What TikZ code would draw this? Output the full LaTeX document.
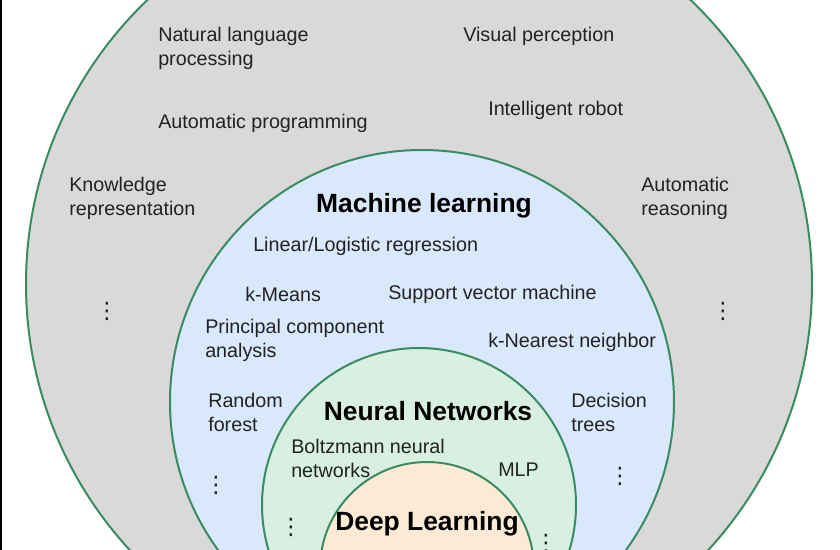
\documentclass[tikz,border=0pt]{standalone}
\usepackage{fontspec}
\setmainfont{Liberation Sans}
\newfontfamily\dotsfont{DejaVu Sans}
\usepackage{tikz}
\usetikzlibrary{positioning}
\definecolor{ringGreen}{RGB}{58,138,98}
\definecolor{fillAI}{RGB}{217,217,217}
\definecolor{fillML}{RGB}{218,232,252}
\definecolor{fillNN}{RGB}{216,240,226}
\definecolor{fillDL}{RGB}{252,234,212}
\definecolor{inktext}{RGB}{34,34,34}

\begin{document}
\begin{tikzpicture}[x=0.75pt,y=-0.75pt,
  ring/.style={draw=ringGreen,line width=1.5pt},
  lbl/.style={anchor=west,inner sep=0pt,align=left,text=inktext,yshift=-2pt,
              font=\fontsize{14.8pt}{18pt}\selectfont},
  ttl/.style={inner sep=0pt,yshift=-1.5pt,font=\fontsize{19.8pt}{23pt}\selectfont\bfseries},
  dts/.style={inner sep=0pt,text=inktext,font=\dotsfont\fontsize{17pt}{20pt}\selectfont}]
  \useasboundingbox (0,0) rectangle (840,550);
  \fill[white] (0,0) rectangle (840,550);
  \begin{scope}
    \clip (0,0) rectangle (840,550);
    \draw[ring,fill=fillAI] (419,284) circle (393);
    \draw[ring,fill=fillML] (422,402) circle (252);
    \draw[ring,fill=fillNN] (419,505) circle (157);
    \draw[ring,fill=fillDL] (427,569) circle (107);
  \end{scope}
  \draw[black,line width=1.5pt] (0.75,0) -- (0.75,550);
  % artificial intelligence
  \node[lbl] (nlp) at (158,46) {Natural language\\processing};
  \node[lbl] (vis) at (463,34) {Visual perception};
  \node[lbl] (prog) at (158,121) {Automatic programming};
  \node[lbl] (robot) at (488,108) {Intelligent robot};
  \node[lbl] (know) at (69,196) {Knowledge\\representation};
  \node[lbl] (reas) at (641,196) {Automatic\\reasoning};
  \node[dts] (ai1) at (107,311) {⋮};
  \node[dts] (ai2) at (723,311) {⋮};
  % machine learning
  \node[ttl] (ml) at (424,204) {Machine learning};
  \node[lbl] (lin) at (253,244) {Linear/Logistic regression};
  \node[lbl] (kmeans) at (245,292) {k-Means};
  \node[lbl] (svm) at (388,292) {Support vector machine};
  \node[lbl] (pca) at (205,338) {Principal component\\analysis};
  \node[lbl] (knn) at (488,340) {k-Nearest neighbor};
  \node[lbl] (rf) at (208,410) {Random\\forest};
  \node[lbl] (dt) at (571,410) {Decision\\trees};
  \node[dts] (ml1) at (216,485) {⋮};
  \node[dts] (ml2) at (620,476) {⋮};
  % neural networks
  \node[ttl] (nn) at (428,409) {Neural Networks};
  \node[lbl] (boltz) at (291,456) {Boltzmann neural\\networks};
  \node[lbl] (mlp) at (498,467) {MLP};
  \node[dts] (nn1) at (291,527) {⋮};
  \node[dts] (nn2) at (546,543) {⋮};
  % deep learning
  \node[ttl] (dl) at (427,522) {Deep Learning};
\end{tikzpicture}
\end{document}
